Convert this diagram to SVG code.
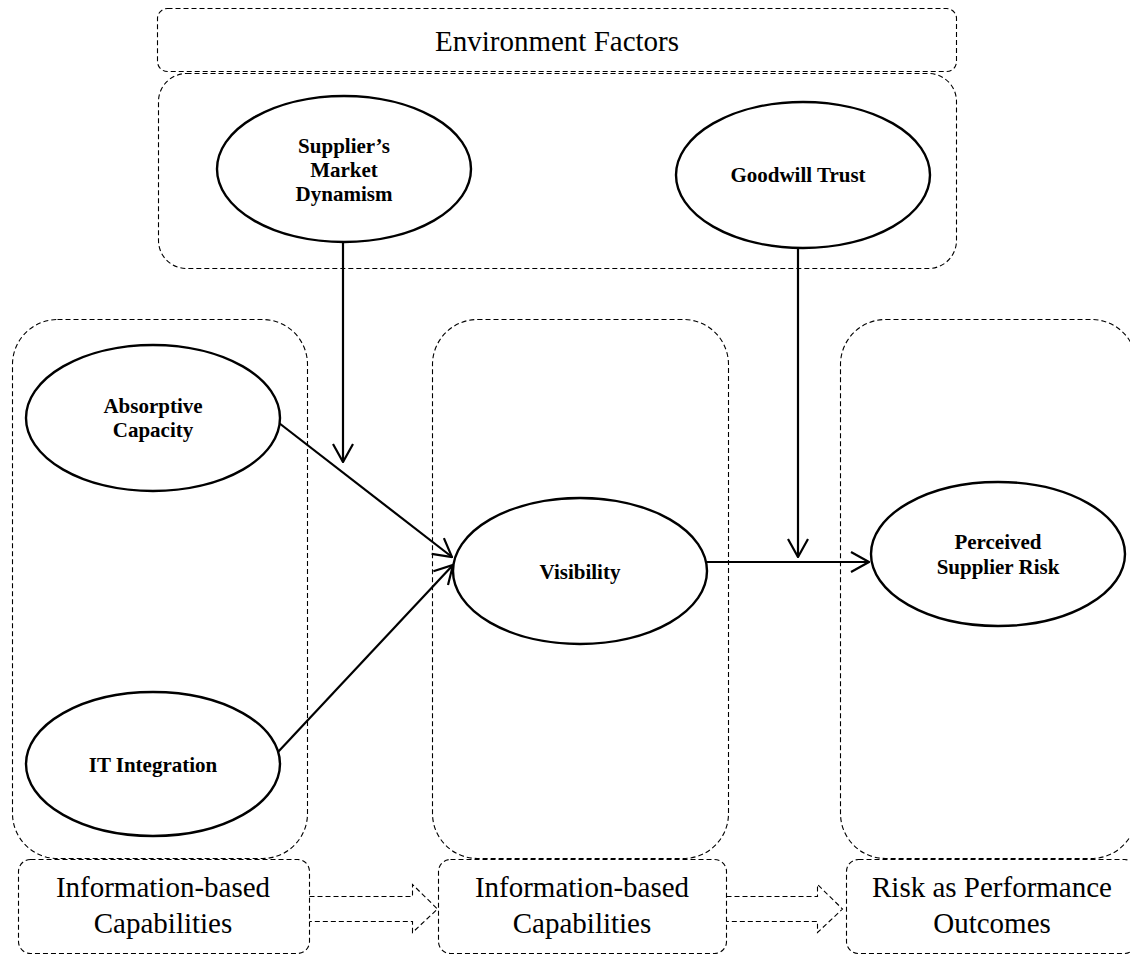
<svg xmlns="http://www.w3.org/2000/svg" width="1130" height="956" viewBox="0 0 1130 956">
<defs>
<style>
.dbox{fill:none;stroke:#000;stroke-width:1.1;stroke-dasharray:5 3}
.node{fill:#fff;stroke:#000;stroke-width:2.4}
.nt{font-family:"Liberation Serif","Times New Roman",serif;font-weight:bold;font-size:21px;text-anchor:middle;fill:#000}
.lt{font-family:"Liberation Serif","Times New Roman",serif;font-size:29px;text-anchor:middle;fill:#000}
.conn{fill:none;stroke:#000;stroke-width:2.2;marker-end:url(#arr)}
</style>
<marker id="arr" viewBox="0 0 20 22" refX="19" refY="11" markerWidth="20" markerHeight="22" markerUnits="userSpaceOnUse" orient="auto">
<path d="M1,1 L19,11 L1,21" fill="none" stroke="#000" stroke-width="2.2"/>
</marker>
</defs>
<rect width="1130" height="956" fill="#fff"/>
<g id="groups">
<rect class="dbox" x="157.5" y="8.5" width="799" height="63" rx="10"/>
<text class="lt" x="557" y="51">Environment Factors</text>
<rect class="dbox" x="158.5" y="73.5" width="798" height="195" rx="28"/>
<rect class="dbox" x="12.5" y="319.5" width="295" height="539" rx="45"/>
<rect class="dbox" x="432.5" y="319.5" width="296" height="539" rx="45"/>
<rect class="dbox" x="840.5" y="319.5" width="296" height="539" rx="45"/>
</g>
<g id="stage-labels">
<g id="label-1">
<rect class="dbox" x="18.5" y="859.5" width="291" height="94" rx="12"/>
<text class="lt" x="163" y="897">Information-based</text>
<text class="lt" x="163" y="933">Capabilities</text>
</g>
<g id="label-2">
<rect class="dbox" x="438.5" y="859.5" width="288" height="94" rx="12"/>
<text class="lt" x="582" y="897">Information-based</text>
<text class="lt" x="582" y="933">Capabilities</text>
</g>
<g id="label-3">
<rect class="dbox" x="846.5" y="859.5" width="290" height="94" rx="12"/>
<text class="lt" x="992" y="897">Risk as Performance</text>
<text class="lt" x="992" y="933">Outcomes</text>
</g>
<path class="dbox" d="M309.5,896.5 H412.5 V884.5 L437.5,909 L412.5,932.5 V921.5 H309.5"/>
<path class="dbox" d="M726.5,896.5 H817.5 V884.5 L842.5,909 L817.5,932.5 V921.5 H726.5"/>
</g>
<g id="connectors">
<line class="conn" x1="279" y1="423" x2="452" y2="557"/>
<line class="conn" x1="278" y1="752" x2="453" y2="565"/>
<line class="conn" x1="343" y1="243" x2="343" y2="462"/>
<line class="conn" x1="798" y1="248" x2="798" y2="557"/>
<line class="conn" x1="707" y1="562" x2="869" y2="562"/>
</g>
<g id="supplier-market-dynamism">
<ellipse class="node" cx="344" cy="169" rx="127" ry="73"/>
<text class="nt" x="344" y="153">Supplier’s</text>
<text class="nt" x="344" y="177">Market</text>
<text class="nt" x="344" y="201">Dynamism</text>
</g>
<g id="goodwill-trust">
<ellipse class="node" cx="803" cy="175" rx="127" ry="73"/>
<text class="nt" x="798" y="182">Goodwill Trust</text>
</g>
<g id="absorptive-capacity">
<ellipse class="node" cx="153" cy="418" rx="127" ry="73"/>
<text class="nt" x="153" y="413">Absorptive</text>
<text class="nt" x="153" y="437">Capacity</text>
</g>
<g id="it-integration">
<ellipse class="node" cx="153" cy="764" rx="127" ry="72"/>
<text class="nt" x="153" y="772">IT Integration</text>
</g>
<g id="visibility">
<ellipse class="node" cx="580" cy="571" rx="127" ry="73"/>
<text class="nt" x="580" y="579">Visibility</text>
</g>
<g id="perceived-supplier-risk">
<ellipse class="node" cx="998" cy="554" rx="127" ry="72"/>
<text class="nt" x="998" y="549">Perceived</text>
<text class="nt" x="998" y="574">Supplier Risk</text>
</g>
</svg>
